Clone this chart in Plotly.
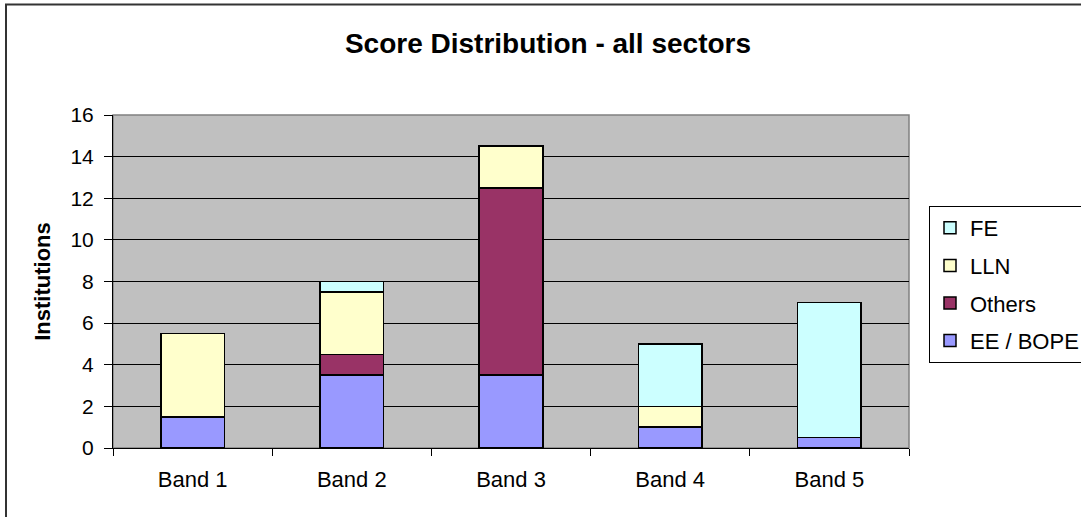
import plotly.graph_objects as go

# Institutions per score band, split by sector
bands = ["Band 1", "Band 2", "Band 3", "Band 4", "Band 5"]
ee_bope = [1.5, 3.5, 3.5, 1.0, 0.5]
others = [0, 1.0, 9.0, 0, 0]
lln = [4.0, 3.0, 2.0, 1.0, 0]
fe = [0, 0.5, 0, 3.0, 6.5]
y_ticks = [0, 2, 4, 6, 8, 10, 12, 14, 16]

# stacked bottom-to-top; the legend lists them top-to-bottom
series = [
    ("EE / BOPE", ee_bope, "#9999FF"),
    ("Others", others, "#993366"),
    ("LLN", lln, "#FFFFCC"),
    ("FE", fe, "#CCFFFF"),
]

FONT = "Liberation Sans, Arial, sans-serif"
W, H = 1081, 517
L, R, T, B = 113, 172, 115, 69

fig = go.Figure()
for i, (name, vals, color) in enumerate(series):
    fig.add_trace(go.Bar(
        x=bands, y=vals, name=name, legendgroup=name,
        legendrank=1000 - i,
        marker=dict(color=color, line=dict(color="black", width=1.5)),
    ))

pw = W - L - R
ph = H - T - B


def px_x(p):
    return (p - L) / pw


def px_y(p):
    return (H - B - p) / ph


fig.update_layout(
    width=W, height=H,
    margin=dict(l=L, r=R, t=T, b=B, autoexpand=False),
    barmode="stack", bargap=0.6,
    paper_bgcolor="white", plot_bgcolor="#C0C0C0",
    font=dict(family=FONT, color="black", size=21),
    title=dict(
        text="<b>Score Distribution - all sectors</b>",
        font=dict(family=FONT, size=28, color="black"),
        xref="container", yref="container",
        x=548 / W, y=1 - 43 / H, xanchor="center", yanchor="middle",
    ),
    xaxis=dict(
        type="category", tickson="boundaries", ticks="outside", ticklen=7,
        tickcolor="black", tickwidth=1, showline=True, linecolor="black",
        linewidth=1, showgrid=False, tickfont=dict(size=22),
        ticklabelstandoff=12,
    ),
    yaxis=dict(
        range=[0, 16], tickvals=y_ticks, ticks="outside", ticklen=8,
        tickcolor="black", tickwidth=1, showline=True, linecolor="black",
        linewidth=1, showgrid=True, gridcolor="black", gridwidth=1,
        zeroline=False, tickfont=dict(size=21), ticklabelstandoff=6,
        title=dict(text="<b>Institutions</b>", font=dict(size=22), standoff=13),
    ),
    legend=dict(
        x=px_x(929), y=px_y(206), xanchor="left", yanchor="top",
        traceorder="grouped", tracegroupgap=6,
        bordercolor="black", borderwidth=1, bgcolor="white",
        font=dict(family=FONT, size=22, color="black"),
    ),
    shapes=[
        # plot-area edge (top / right)
        dict(type="rect", xref="paper", yref="paper", x0=0, x1=1, y0=0, y1=1,
             line=dict(color="#808080", width=1.5), layer="below"),
        # outer chart frame
        dict(type="rect", xref="paper", yref="paper",
             x0=px_x(6), x1=px_x(W + 20), y0=px_y(H + 20), y1=px_y(4.5),
             line=dict(color="#333333", width=2)),
    ],
)

fig.write_html("out.html")
